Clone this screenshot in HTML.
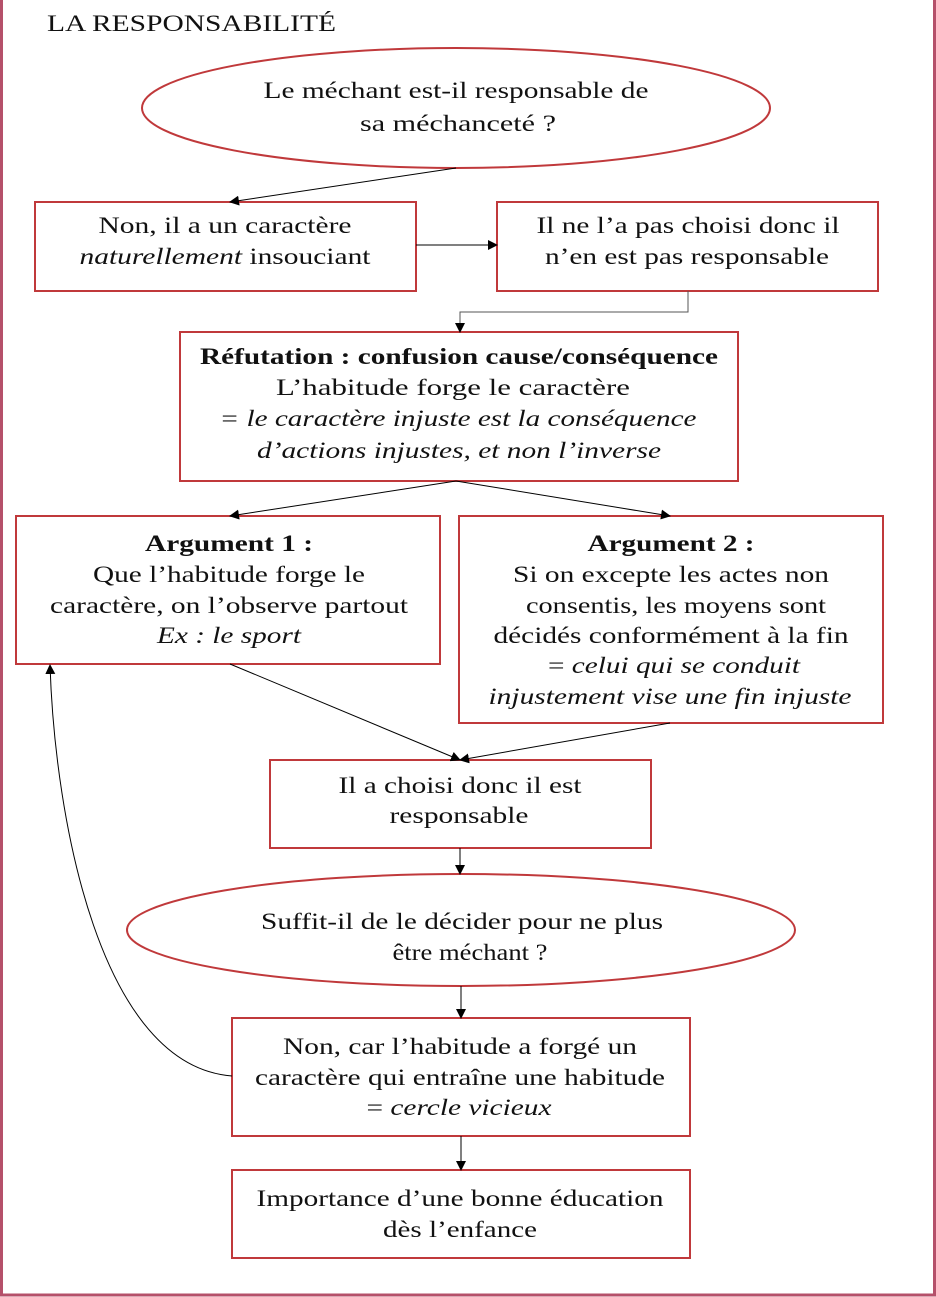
<!DOCTYPE html>
<html><head><meta charset="utf-8"><style>
html,body{margin:0;padding:0;background:#fff}
svg{display:block}
text{font-family:"Liberation Serif",serif;font-size:23px;fill:#111}
.c{text-anchor:middle}
.b{font-weight:bold}
.i{font-style:italic}
</style></head><body>
<svg width="936" height="1297" viewBox="0 0 936 1297" xmlns="http://www.w3.org/2000/svg">
<defs><marker id="a" markerWidth="10" markerHeight="10" refX="9" refY="5" orient="auto" markerUnits="userSpaceOnUse"><path d="M0,0 L10,5 L0,10 z" fill="#000"/></marker></defs>
<rect x="1.5" y="-5" width="933" height="1300" fill="none" stroke="#b5506a" stroke-width="3"/>
<text x="47" y="31" textLength="289" lengthAdjust="spacingAndGlyphs">LA RESPONSABILITÉ</text>
<g fill="none" stroke="#c0393b" stroke-width="2">
<ellipse cx="456" cy="108" rx="314" ry="60"/>
<rect x="35" y="202" width="381" height="89"/>
<rect x="497" y="202" width="381" height="89"/>
<rect x="180" y="332" width="558" height="149"/>
<rect x="16" y="516" width="424" height="148"/>
<rect x="459" y="516" width="424" height="207"/>
<rect x="270" y="760" width="381" height="88"/>
<ellipse cx="461" cy="930" rx="334" ry="56"/>
<rect x="232" y="1018" width="458" height="118"/>
<rect x="232" y="1170" width="458" height="88"/>
</g>
<g fill="none" stroke="#000" stroke-width="1" marker-end="url(#a)">
<line x1="456" y1="168" x2="230" y2="202"/>
<line x1="416" y1="245" x2="497" y2="245"/>
<polyline points="688,291 688,312 460,312 460,332" stroke="#555"/>
<line x1="456" y1="481" x2="230" y2="516"/>
<line x1="456" y1="481" x2="670" y2="516"/>
<line x1="230" y1="664" x2="460" y2="760"/>
<line x1="670" y1="723" x2="460" y2="760"/>
<line x1="460" y1="848" x2="460" y2="874"/>
<line x1="461" y1="986" x2="461" y2="1018"/>
<line x1="461" y1="1136" x2="461" y2="1170"/>
<path d="M232,1076 C100,1066 55,820 50,665"/>
</g>
<text class="c" x="456" y="98" textLength="385" lengthAdjust="spacingAndGlyphs">Le méchant est-il responsable de</text>
<text class="c" x="458" y="131" textLength="196" lengthAdjust="spacingAndGlyphs">sa méchanceté ?</text>
<text class="c" x="225" y="233" textLength="253" lengthAdjust="spacingAndGlyphs">Non, il a un caractère</text>
<text class="c" x="225" y="264" textLength="291" lengthAdjust="spacingAndGlyphs"><tspan class="i">naturellement</tspan> insouciant</text>
<text class="c" x="688" y="233" textLength="303" lengthAdjust="spacingAndGlyphs">Il ne l’a pas choisi donc il</text>
<text class="c" x="687" y="264" textLength="284" lengthAdjust="spacingAndGlyphs">n’en est pas responsable</text>
<text class="c b" x="459" y="364" textLength="518" lengthAdjust="spacingAndGlyphs">Réfutation : confusion cause/conséquence</text>
<text class="c" x="453" y="395" textLength="354" lengthAdjust="spacingAndGlyphs">L’habitude forge le caractère</text>
<text class="c i" x="458" y="426" textLength="477" lengthAdjust="spacingAndGlyphs">= le caractère injuste est la conséquence</text>
<text class="c i" x="459" y="458" textLength="404" lengthAdjust="spacingAndGlyphs">d’actions injustes, et non l’inverse</text>
<text class="c b" x="229" y="551" textLength="168" lengthAdjust="spacingAndGlyphs">Argument 1 :</text>
<text class="c" x="229" y="582" textLength="272" lengthAdjust="spacingAndGlyphs">Que l’habitude forge le</text>
<text class="c" x="229" y="613" textLength="358" lengthAdjust="spacingAndGlyphs">caractère, on l’observe partout</text>
<text class="c i" x="229" y="643" textLength="144" lengthAdjust="spacingAndGlyphs">Ex : le sport</text>
<text class="c b" x="671" y="551" textLength="167" lengthAdjust="spacingAndGlyphs">Argument 2 :</text>
<text class="c" x="671" y="582" textLength="316" lengthAdjust="spacingAndGlyphs">Si on excepte les actes non</text>
<text class="c" x="676" y="613" textLength="300" lengthAdjust="spacingAndGlyphs">consentis, les moyens sont</text>
<text class="c" x="671" y="643" textLength="355" lengthAdjust="spacingAndGlyphs">décidés conformément à la fin</text>
<text class="c" x="674" y="673" textLength="252" lengthAdjust="spacingAndGlyphs">= <tspan class="i">celui qui se conduit</tspan></text>
<text class="c i" x="670" y="704" textLength="363" lengthAdjust="spacingAndGlyphs">injustement vise une fin injuste</text>
<text class="c" x="460" y="793" textLength="243" lengthAdjust="spacingAndGlyphs">Il a choisi donc il est</text>
<text class="c" x="459" y="823" textLength="139" lengthAdjust="spacingAndGlyphs">responsable</text>
<text class="c" x="462" y="929" textLength="402" lengthAdjust="spacingAndGlyphs">Suffit-il de le décider pour ne plus</text>
<text class="c" x="470" y="960" textLength="155" lengthAdjust="spacingAndGlyphs">être méchant ?</text>
<text class="c" x="460" y="1054" textLength="354" lengthAdjust="spacingAndGlyphs">Non, car l’habitude a forgé un</text>
<text class="c" x="460" y="1085" textLength="410" lengthAdjust="spacingAndGlyphs">caractère qui entraîne une habitude</text>
<text class="c" x="459" y="1115" textLength="185" lengthAdjust="spacingAndGlyphs">= <tspan class="i">cercle vicieux</tspan></text>
<text class="c" x="460" y="1206" textLength="407" lengthAdjust="spacingAndGlyphs">Importance d’une bonne éducation</text>
<text class="c" x="460" y="1237" textLength="154" lengthAdjust="spacingAndGlyphs">dès l’enfance</text>
</svg>
</body></html>
